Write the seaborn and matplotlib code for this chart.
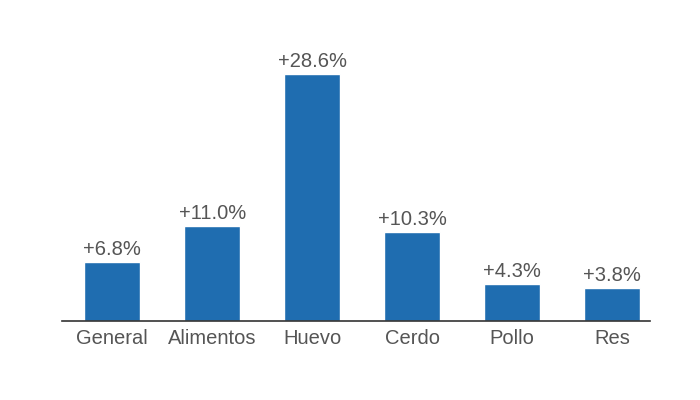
import matplotlib
matplotlib.use("Agg")
import matplotlib.pyplot as plt
import seaborn as sns
import pandas as pd

categories = ["General", "Alimentos", "Huevo", "Cerdo", "Pollo", "Res"]
values = [6.8, 11.0, 28.6, 10.3, 4.3, 3.8]
labels = ["+6.8%", "+11.0%", "+28.6%", "+10.3%", "+4.3%", "+3.8%"]

sns.set_style("white")
plt.rcParams['font.family'] = ['Liberation Sans', 'DejaVu Sans']
df = pd.DataFrame({"cat": categories, "val": values})
fig = plt.figure(figsize=(7, 4), dpi=100)
ax = fig.add_axes([0.089, 0.1975, 0.84, 0.70])
sns.barplot(data=df, x="cat", y="val", color="#1f6db0", saturation=1, width=0.56, ax=ax)
for i, (v, l) in enumerate(zip(values, labels)):
    ax.text(i, v + 0.35, l, ha="center", va="bottom", fontsize=14.5, color="#555555")
ax.set_xlim(-0.5, 5.38)
ax.set_ylim(0, 32.4)
ax.set_xlabel(""); ax.set_ylabel("")
ax.set_yticks([])
ax.tick_params(axis="x", length=0, labelsize=14.5, labelcolor="#555555", pad=6)
for s in ["top", "right", "left"]:
    ax.spines[s].set_visible(False)
ax.spines["bottom"].set_color("#333333")
ax.spines["bottom"].set_linewidth(1.2)
fig.savefig("out.png", dpi=100)
